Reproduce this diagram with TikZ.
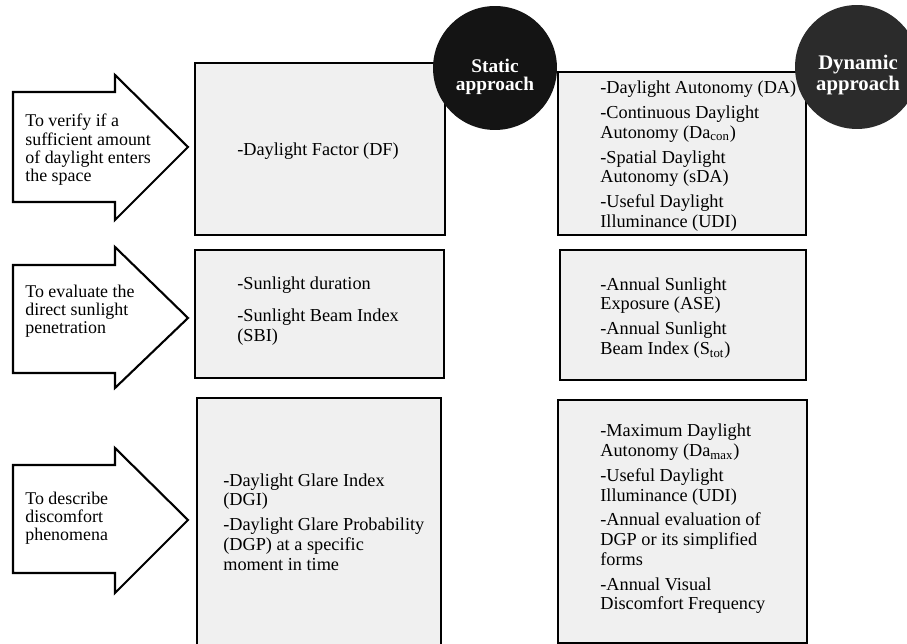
\documentclass[tikz,border=0pt]{standalone}
\usepackage{fontspec}
\setmainfont{Liberation Serif}
\begin{document}
\begin{tikzpicture}[
    x=0.02cm,y=-0.02cm,
    panel/.style={draw=black,line width=1.3pt,fill=black!6},
    goal/.style={draw=black,line width=1.2pt,fill=white},
    goaltext/.style={anchor=west,align=left,inner sep=0pt,
        font={\fontsize{10.2}{10.4}\selectfont}},
    metric/.style={anchor=west,align=left,inner sep=0pt,
        font={\fontsize{10.4}{11.2}\selectfont}},
    badge/.style={align=center,text=white,inner sep=0pt,
        font={\bfseries\fontsize{11}{10.4}\selectfont}},
    ]
    \useasboundingbox (0,0) rectangle (907,644);
    % Goal arrows
    \draw[goal] (13,92) -- (115,92) -- (115,75) -- (188,147)
        -- (115,220) -- (115,202) -- (13,202) -- cycle;
    \draw[goal] (13,265) -- (115,265) -- (115,247) -- (188,318)
        -- (115,388) -- (115,373) -- (13,373) -- cycle;
    \draw[goal] (13,465) -- (115,465) -- (115,448) -- (188,520)
        -- (115,593) -- (115,573) -- (13,573) -- cycle;
    \node[goaltext] (goalone) at (25,150)
        {To verify if a\\sufficient amount\\of daylight enters\\the space};
    \node[goaltext] (goaltwo) at (25,311)
        {To evaluate the\\direct sunlight\\penetration};
    \node[goaltext] (goalthree) at (25,518)
        {To describe\\discomfort\\phenomena};
    % Static approach column
    \draw[panel] (195,63) rectangle (445,235);
    \draw[panel] (195,250) rectangle (444,378);
    \draw[panel] (197,398) rectangle (441,646);
    \node[metric] (staticone) at (237,151) {-Daylight Factor (DF)};
    \node[metric] (statictwo) at (237,311)
        {-Sunlight duration\\[7pt]-Sunlight Beam Index\\(SBI)};
    \node[metric] (staticthree) at (223,522)
        {-Daylight Glare Index\\(DGI)\\[3pt]-Daylight Glare Probability\\
         (DGP) at a specific\\moment in time};
    % Dynamic approach column
    \draw[panel] (558,72) rectangle (806,235);
    \draw[panel] (560,250) rectangle (806,380);
    \draw[panel] (558,400) rectangle (807,643);
    \node[metric] (dynamicone) at (600,156)
        {-Daylight Autonomy (DA)\\[3pt]-Continuous Daylight\\
         Autonomy (Da\textsubscript{con})\\[3pt]-Spatial Daylight\\
         Autonomy (sDA)\\[3pt]-Useful Daylight\\Illuminance (UDI)};
    \node[metric] (dynamictwo) at (600,318)
        {-Annual Sunlight\\Exposure (ASE)\\[3pt]-Annual Sunlight\\
         Beam Index (S\textsubscript{tot})};
    \node[metric] (dynamicthree) at (600,519)
        {-Maximum Daylight\\Autonomy (Da\textsubscript{max})\\[3pt]
         -Useful Daylight\\Illuminance (UDI)\\[3pt]-Annual evaluation of\\
         DGP or its simplified\\forms\\[3pt]-Annual Visual\\
         Discomfort Frequency};
    % Column headers
    \fill[black!92] (495,68) circle[radius=1.24cm];
    \node[badge] (statichead) at (495,77) {Static\\approach};
    \fill[black!83] (857,67) circle[radius=1.24cm];
    \node[badge,font={\bfseries\fontsize{11.8}{10.4}\selectfont}]
        (dynamichead) at (858,75) {Dynamic\\approach};
\end{tikzpicture}
\end{document}
